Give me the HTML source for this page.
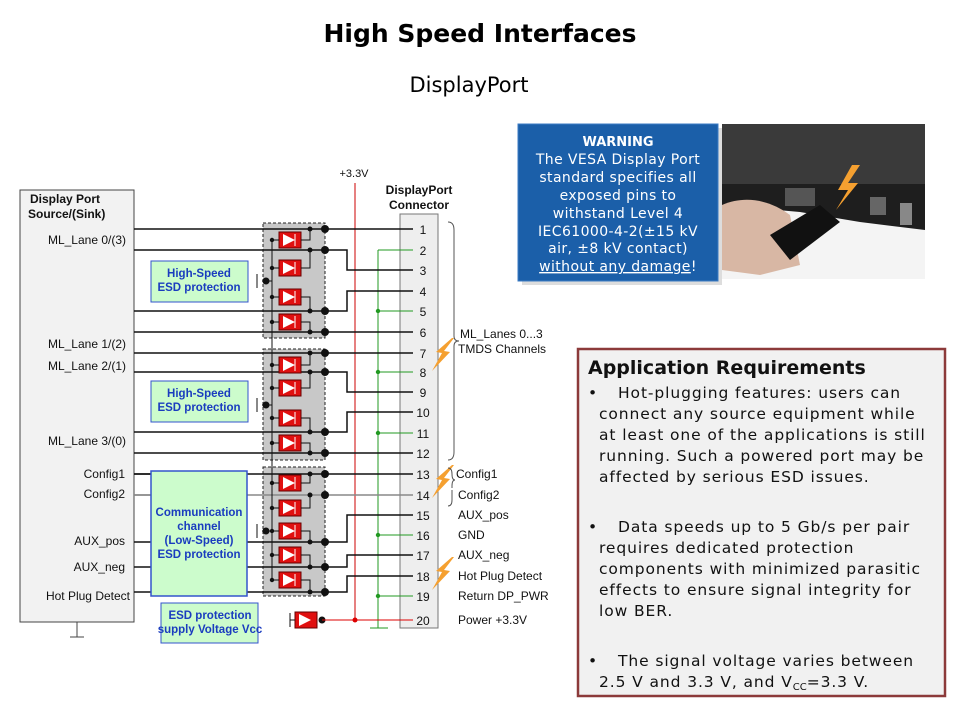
<!DOCTYPE html>
<html><head><meta charset="utf-8"><style>
body{margin:0;width:960px;height:720px;background:#fff;overflow:hidden;font-family:"Liberation Sans",sans-serif}
svg{position:absolute;left:0;top:0}
</style></head><body>
<svg id="s" width="960" height="720" xmlns="http://www.w3.org/2000/svg" font-family="Liberation Sans, sans-serif">
<text x="480" y="42" text-anchor="middle" font-size="25" font-weight="bold" font-family="DejaVu Sans, sans-serif">High Speed Interfaces</text>
<text x="469" y="92" text-anchor="middle" font-size="21" font-family="DejaVu Sans, sans-serif">DisplayPort</text>
<!-- warning -->
<rect x="522" y="128" width="200" height="157" fill="#bbb" opacity="0.5"/>
<rect x="518" y="124" width="200" height="157" fill="#1b5fa9" stroke="#3b7bc4"/>
<g font-family="DejaVu Sans, sans-serif" fill="#fff" text-anchor="middle" font-size="14" letter-spacing="0.4">
<text x="618" y="146" font-size="13" font-weight="bold" letter-spacing="0">WARNING</text>
<text x="618" y="164">The VESA Display Port</text>
<text x="618" y="182">standard specifies all</text>
<text x="618" y="200">exposed pins to</text>
<text x="618" y="218">withstand Level 4</text>
<text x="618" y="236">IEC61000-4-2(±15 kV</text>
<text x="618" y="253">air, ±8 kV contact)</text>
<text x="618" y="271"><tspan text-decoration="underline">without any damage</tspan>!</text>
</g>
<!-- photo -->
<rect x="722" y="124" width="203" height="155" fill="#f4f4f4"/>
<rect x="722" y="124" width="203" height="60" fill="#3a3a3a"/>
<path d="M722 184H925V230L860 222L800 212L722 205Z" fill="#1e1e1e"/>
<rect x="785" y="188" width="30" height="18" fill="#555"/>
<rect x="870" y="197" width="16" height="18" fill="#666"/>
<rect x="900" y="203" width="12" height="22" fill="#888"/>
<path d="M722 205C745 195 770 200 790 215L800 265L760 275L722 270Z" fill="#d8b7a4"/>
<path d="M770 235L820 205L840 222L790 260Z" fill="#111"/>
<path d="M852 165L838 190L848 190L836 210L858 183L848 183L860 165Z" fill="#f5a030"/>
<!-- app req -->
<rect x="578" y="349" width="367" height="347" fill="#f1f1f1" stroke="#8c3a3a" stroke-width="2.5"/>
<g font-family="DejaVu Sans, sans-serif" font-size="15.5" fill="#111" letter-spacing="0.9">
<text x="588" y="374" font-size="19" font-weight="bold" letter-spacing="0">Application Requirements</text>
<text x="588" y="398">•</text><text x="618" y="398">Hot-plugging features: users can</text>
<text x="599" y="419">connect any source equipment while</text>
<text x="599" y="440">at least one of the applications is still</text>
<text x="599" y="461">running. Such a powered port may be</text>
<text x="599" y="482">affected by serious ESD issues.</text>
<text x="588" y="532">•</text><text x="618" y="532">Data speeds up to 5 Gb/s per pair</text>
<text x="599" y="553">requires dedicated protection</text>
<text x="599" y="574">components with minimized parasitic</text>
<text x="599" y="595">effects to ensure signal integrity for</text>
<text x="599" y="616">low BER.</text>
<text x="588" y="666">•</text><text x="618" y="666">The signal voltage varies between</text>
<text x="599" y="687">2.5 V and 3.3 V, and V<tspan font-size="10" dy="3" letter-spacing="0">CC</tspan><tspan dy="-3">=3.3 V.</tspan></text>
</g>
<!-- schematic static -->
<rect x="20" y="190" width="114" height="432" fill="#f2f2f2" stroke="#444"/>
<line x1="77" y1="622" x2="77" y2="637" stroke="#444"/><line x1="70" y1="637" x2="84" y2="637" stroke="#444"/>
<rect x="400" y="214" width="38" height="414" fill="#eee" stroke="#777"/>
<g id="net"></g>
<g font-size="12" fill="#111">
<text x="30" y="203" font-weight="bold">Display Port</text>
<text x="28" y="218" font-weight="bold">Source/(Sink)</text>
<text x="126" y="244" text-anchor="end">ML_Lane 0/(3)</text>
<text x="126" y="348" text-anchor="end">ML_Lane 1/(2)</text>
<text x="126" y="370" text-anchor="end">ML_Lane 2/(1)</text>
<text x="126" y="445" text-anchor="end">ML_Lane 3/(0)</text>
<text x="125" y="478" text-anchor="end">Config1</text>
<text x="125" y="498" text-anchor="end">Config2</text>
<text x="125" y="545" text-anchor="end">AUX_pos</text>
<text x="125" y="571" text-anchor="end">AUX_neg</text>
<text x="130" y="600" text-anchor="end">Hot Plug Detect</text>
<text x="354" y="177" text-anchor="middle" font-size="11">+3.3V</text>
<text x="419" y="194" text-anchor="middle" font-weight="bold">DisplayPort</text>
<text x="419" y="209" text-anchor="middle" font-weight="bold">Connector</text>
<text x="460" y="338">ML_Lanes 0...3</text>
<text x="458" y="353">TMDS Channels</text>
<text x="456" y="478">Config1</text>
<text x="458" y="499">Config2</text>
<text x="458" y="519">AUX_pos</text>
<text x="458" y="539">GND</text>
<text x="458" y="559">AUX_neg</text>
<text x="458" y="580">Hot Plug Detect</text>
<text x="458" y="600">Return DP_PWR</text>
<text x="458" y="624">Power +3.3V</text>
</g>
<g id="labels" font-size="12" fill="#111"></g>
<path d="M448 222Q454 222 454 230V336Q454 341 459 341Q454 341 454 346V452Q454 460 448 460" fill="none" stroke="#555"/>
<path d="M448 468Q452 468 452 474Q452 480 455 480Q452 480 452 486V488" fill="none" stroke="#555"/>
<path d="M452 490V500Q452 506 448 506" fill="none" stroke="#555"/>
<g fill="#1a3cbf" font-weight="bold" font-size="11.5" text-anchor="middle">
<rect x="151" y="261" width="97" height="41" fill="#ccfccc" stroke="#3355cc"/>
<text x="199" y="277">High-Speed</text><text x="199" y="291">ESD protection</text>
<rect x="151" y="381" width="97" height="41" fill="#ccfccc" stroke="#3355cc"/>
<text x="199" y="397">High-Speed</text><text x="199" y="411">ESD protection</text>
<rect x="151" y="471" width="96" height="125" fill="#ccfccc" stroke="#3355cc" stroke-width="1.5"/>
<text x="199" y="516">Communication</text><text x="199" y="530">channel</text><text x="199" y="544">(Low-Speed)</text><text x="199" y="558">ESD protection</text>
<rect x="161" y="603" width="97" height="40" fill="#ccfccc" stroke="#3355cc"/>
<text x="210" y="619">ESD protection</text><text x="210" y="633">supply Voltage Vcc</text>
</g>
</svg>
<script>
var N='http://www.w3.org/2000/svg',g=document.getElementById('net'),L=document.getElementById('labels');
function e(t,a,p){var x=document.createElementNS(N,t);for(var k in a)x.setAttribute(k,a[k]);(p||g).appendChild(x);return x}
function ln(x1,y1,x2,y2,c,w){e('line',{x1:x1,y1:y1,x2:x2,y2:y2,stroke:c||'#111','stroke-width':w||1.5})}
function pl(p,c,w){e('polyline',{points:p,fill:'none',stroke:c||'#111','stroke-width':w||1.5})}
function dot(x,y,r,c){e('circle',{cx:x,cy:y,r:r,fill:c||'#111'})}
var P=[0,229,250,270,291,311,332,353,372,392,412,433,453,474,495,515,535,555,576,596,620];
e('rect',{x:263,y:223,width:62,height:115,fill:'#c8c8c8',stroke:'#222','stroke-dasharray':'3,2'});
e('rect',{x:263,y:349,width:62,height:111,fill:'#c8c8c8',stroke:'#222','stroke-dasharray':'3,2'});
e('rect',{x:263,y:467,width:62,height:129,fill:'#c8c8c8',stroke:'#222','stroke-dasharray':'3,2'});
ln(355,183,355,620,'#c00',1);
pl('378,250 378,628','#292',1);
[2,5,8,11,16,19].forEach(function(i){ln(378,P[i],413,P[i],'#292',1);if(i!=2)dot(378,P[i],2.2,'#292')});
ln(370,628,388,628,'#292',1);
var S=[[229,1],[250,3],[311,4],[332,6],[353,7],[372,9],[432,10],[453,12],[474,13],[495,14],[542,15],[567,17],[592,18]];
S.forEach(function(s){var y=s[0],py=P[s[1]],c=(s[1]==14)?'#888':'#111';
 if(y==py)ln(134,y,413,y,c);else pl('134,'+y+' 347,'+y+' 347,'+py+' 413,'+py,c);});
ln(134,474,151,474);ln(134,495,151,495,'#888');
function diode(y,a){e('rect',{x:279,y:y-8,width:22,height:16,fill:'#e01010',stroke:'#600'});
 e('path',{d:'M283 '+(y-6)+'L295 '+y+'L283 '+(y+6)+'Z',fill:'#fff'});ln(295,y-6,295,y+6,'#fff',1);
 ln(272,y,279,y,'#111',1);dot(272,y,2.2);pl('301,'+y+' 310,'+y+' 310,'+a,'#111',1);dot(310,a,2.5);dot(325,a,4);}
[[240,229],[268,250],[297,311],[322,332],[365,353],[388,372],[418,432],[443,453],[483,474],[508,495],[531,542],[555,567],[580,592]].forEach(function(d){diode(d[0],d[1])});
ln(272,240,272,580,'#111',1);
[281,405,531].forEach(function(y){ln(262,y,272,y,'#111',1);dot(266,y,3.5);ln(257,y-7,257,y+7,'#111',1);});
e('rect',{x:295,y:612,width:22,height:16,fill:'#e01010',stroke:'#600'});
e('path',{d:'M299 614L311 620L299 626Z',fill:'#fff'});ln(290,613,290,627,'#111',1);ln(290,620,295,620,'#111',1);
dot(322,620,3.5);ln(322,620,413,620,'#d00',1);dot(355,620,2.5,'#d00');
for(var i=1;i<=20;i++){var t=e('text',{x:423,y:P[i]+5,'text-anchor':'middle'},L);t.textContent=i;}
[[440,338],[440,465],[440,557]].forEach(function(b){var x=b[0],y=b[1];
 e('path',{d:'M'+(x+12)+' '+y+'L'+(x-4)+' '+(y+14)+'L'+(x+2)+' '+(y+15)+'L'+(x-8)+' '+(y+33)+'L'+(x+10)+' '+(y+14)+'L'+(x+4)+' '+(y+13)+'L'+(x+14)+' '+y+'Z',fill:'#f5a030'});});
</script>
</body></html>
